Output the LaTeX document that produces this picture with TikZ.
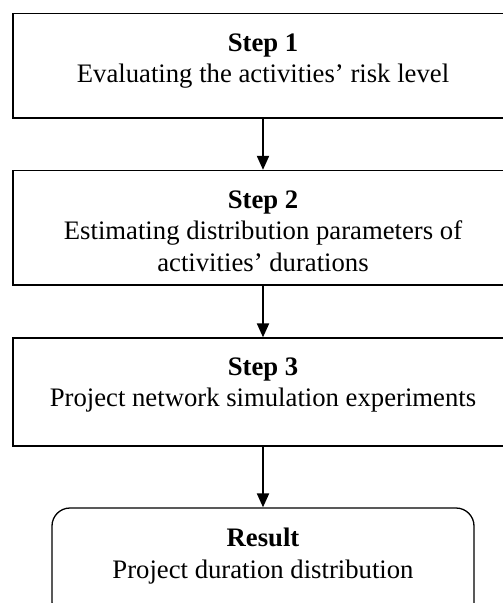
\documentclass[tikz,border=0pt]{standalone}
\usepackage{fontspec}
\setmainfont{Liberation Serif}
\usetikzlibrary{arrows.meta}

\begin{document}
\begin{tikzpicture}[x=1pt,y=-1pt,>={Triangle[length=14pt,width=12pt]},line cap=butt,
  stepbox/.style={draw,line width=1.3pt,minimum width=500pt,inner sep=0pt},
  resbox/.style={draw,line width=1.3pt,rounded corners=18pt,minimum width=422pt,minimum height=112pt,inner sep=0pt},
  boxtext/.style={align=center,font=\fontsize{26.7}{31.5}\selectfont},
  flow/.style={->,line width=2pt}]
\useasboundingbox (0,0) rectangle (503,603);
\node[stepbox,minimum height=104.5pt] (s1) at (263,65.75) {};
\node[stepbox,minimum height=114.5pt] (s2) at (263,227.75) {};
\node[stepbox,minimum height=108pt] (s3) at (263,392) {};
\node[resbox] (res) at (263,564) {};
\node[boxtext] (t1) at (263,61) {\textbf{Step 1}\\Evaluating the activities' risk level};
\node[boxtext] (t2) at (263,231) {\textbf{Step 2}\\Estimating distribution parameters of\\activities' durations};
\node[boxtext] (t3) at (263,385) {\textbf{Step 3}\\Project network simulation experiments};
\node[boxtext] (t4) at (263,556) {\textbf{Result}\\Project duration distribution};
\draw[flow] (s1) -- (s2);
\draw[flow] (s2) -- (s3);
\draw[flow] (s3) -- (res);
\end{tikzpicture}
\end{document}
